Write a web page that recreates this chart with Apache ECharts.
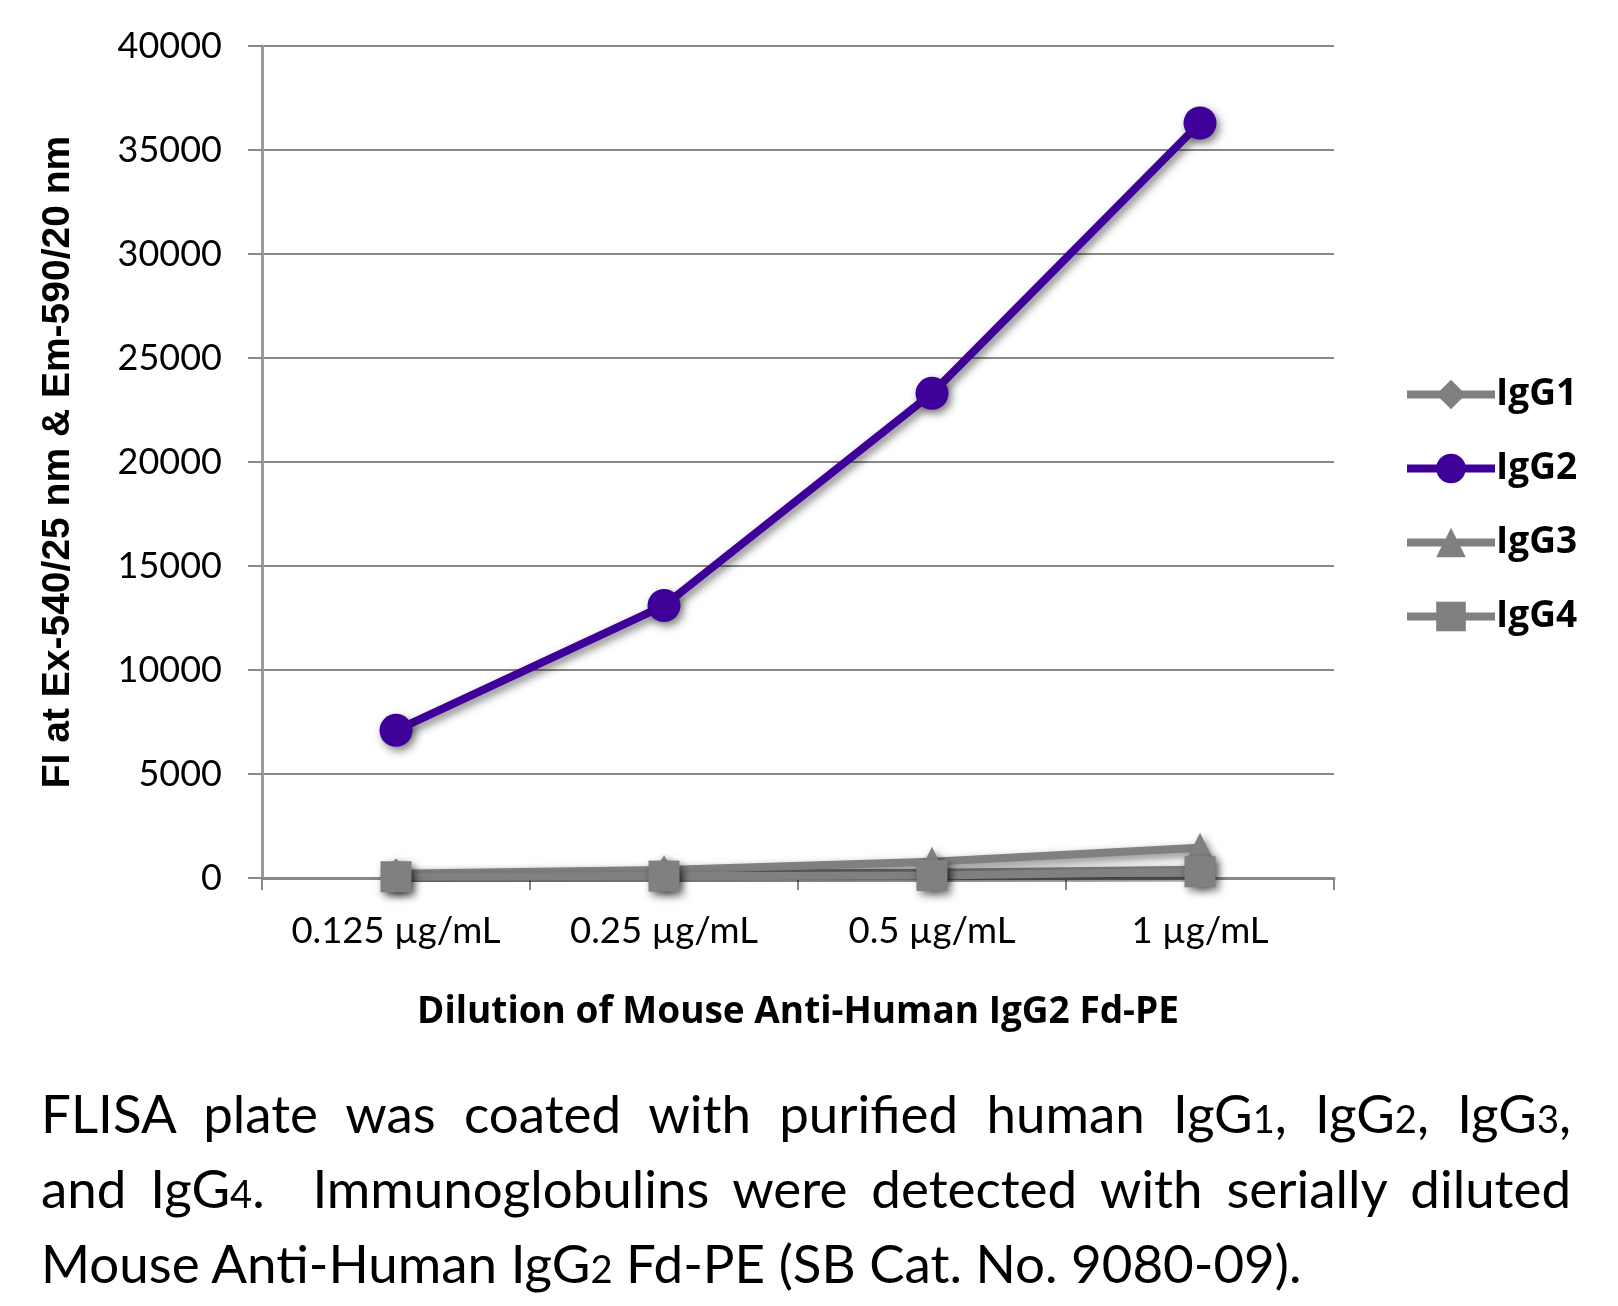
<!DOCTYPE html>
<html>
<head>
<meta charset="utf-8">
<script src="https://cdn.jsdelivr.net/npm/echarts@6/dist/echarts.min.js"></script>
<style>
  html, body { margin:0; padding:0; background:#fff; }
  #chart { position:absolute; left:0; top:0; width:1618px; height:1306px; }
  #caption { position:absolute; left:41px; top:1078px; width:1530px; font-family:Lato, 'Open Sans', sans-serif; color:#000; line-height:70px; }
  #caption .j { text-align:justify; text-align-last:justify; white-space:nowrap; }
  #caption .l { text-align:left; white-space:nowrap; }
  #caption .s { font-size:0.72em; }
</style>
</head>
<body>
<div id="chart"></div>
<div id="caption">
  <div class="j">FLISA plate was coated with purified human IgG<span class="s">1</span>, IgG<span class="s">2</span>, IgG<span class="s">3</span>,</div>
  <div class="j">and IgG<span class="s">4</span>.&nbsp; Immunoglobulins were detected with serially diluted</div>
  <div class="l" id="l3">Mouse Anti-Human IgG<span class="s">2</span> Fd-PE (SB Cat. No. 9080-09).</div>
</div>
<script>
const categories = ['0.125 µg/mL', '0.25 µg/mL', '0.5 µg/mL', '1 µg/mL'];
const igg1 = [120, 200, 250, 400];
const igg2 = [7100, 13100, 23300, 36300];
const igg3 = [200, 380, 780, 1450];
const igg4 = [60, 90, 120, 300];
const seriesNames = ['IgG1', 'IgG2', 'IgG3', 'IgG4'];
const yTitle = 'FI at Ex-540/25 nm & Em-590/20 nm';
const xTitle = 'Dilution of Mouse Anti-Human IgG2 Fd-PE';

// fit caption font so the last (non-justified) line matches reference width
(function(){
  const c = document.createElement('canvas').getContext('2d');
  let f = 50;
  c.font = f + 'px Lato';
  const w = c.measureText('Mouse Anti-Human IgG Fd-PE (SB Cat. No. 9080-09).').width + c.measureText('2').width * 0.72;
  f = Math.min(56, f * 1262 / w);
  document.getElementById('caption').style.fontSize = f.toFixed(1) + 'px';
})();

const GRAY = '#808080';
const PURPLE = '#3f0099';
const shadow = { shadowColor:'rgba(0,0,0,0.5)', shadowBlur:8, shadowOffsetX:3, shadowOffsetY:4 };

function mk(name, data, color, symbol, size) {
  return {
    name, type:'line', data, symbol, symbolSize:size,
    showAllSymbol:true,
    lineStyle:Object.assign({ color, width:8 }, shadow),
    itemStyle:Object.assign({ color }, shadow),
    emphasis:{ disabled:true },
    animation:false
  };
}

const chart = echarts.init(document.getElementById('chart'), null, { renderer:'canvas' });
chart.setOption({
  backgroundColor:'#fff',
  animation:false,
  grid:{ left:262, right:284, top:46, bottom:428, containLabel:false },
  legend:{
    orient:'vertical', left:1398, top:371,
    itemWidth:88, itemHeight:37, itemGap:37,
    lineStyle:{ width:8, shadowBlur:0, shadowOffsetX:0, shadowOffsetY:0 },
    itemStyle:{ shadowBlur:0, shadowOffsetX:0, shadowOffsetY:0 },
    textStyle:{ fontFamily:"'Open Sans'", fontWeight:'bold', fontSize:37, color:'#000', padding:[0,0,0,-4] },
    data:seriesNames,
    selectedMode:false
  },
  xAxis:{
    type:'category', data:categories, boundaryGap:true,
    axisLine:{ lineStyle:{ color:'#888', width:3 } },
    axisTick:{ show:true, length:12, lineStyle:{ color:'#888', width:2 } },
    axisLabel:{ fontFamily:'Lato', fontSize:36.5, color:'#000', margin:35, interval:0, hideOverlap:false },
    name:xTitle, nameLocation:'middle', nameGap:116,
    nameTextStyle:{ fontFamily:"'Open Sans'", fontWeight:'bold', fontSize:37, color:'#000' }
  },
  yAxis:{
    type:'value', min:0, max:40000, interval:5000,
    axisLine:{ show:true, lineStyle:{ color:'#999', width:3 } },
    axisTick:{ show:true, length:14, lineStyle:{ color:'#888', width:2 } },
    splitLine:{ show:true, lineStyle:{ color:'#888', width:2 } },
    axisLabel:{ fontFamily:'Lato', fontSize:36, color:'#000', margin:40, formatter:function(v){ return String(v); } },
    name:yTitle, nameLocation:'middle', nameGap:184, nameRotate:90,
    nameTextStyle:{ fontFamily:"'Liberation Sans Narrow', 'Arial Narrow', sans-serif", fontWeight:'bold', fontSize:39, color:'#000' }
  },
  series:[
    mk('IgG1', igg1, GRAY, 'diamond', [30, 34]),
    mk('IgG2', igg2, PURPLE, 'circle', 33),
    mk('IgG3', igg3, GRAY, 'triangle', 30),
    mk('IgG4', igg4, GRAY, 'rect', 31)
  ]
});
</script>
</body>
</html>
